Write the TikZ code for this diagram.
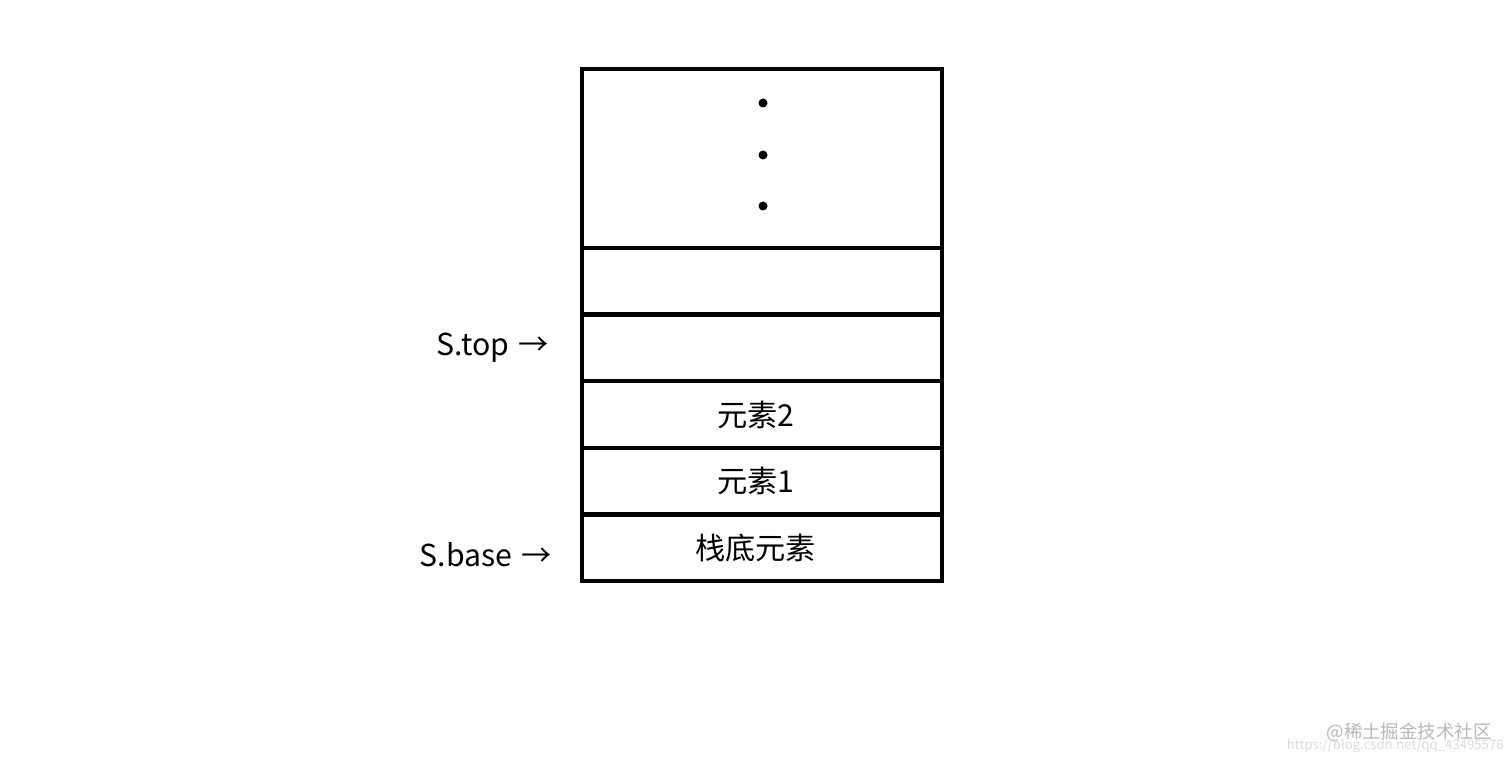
\documentclass[tikz,border=0pt]{standalone}
\usepackage{fontspec}
\setmainfont{Noto Sans CJK SC}
\usetikzlibrary{positioning}

\begin{document}
\begin{tikzpicture}[node distance=0cm, x=0.02cm, y=-0.02cm,
  cell/.style={draw, rectangle, line width=2.45pt, outer sep=0pt, minimum width=7.2cm, minimum height=1.333cm, font=\fontsize{17.2}{20}\selectfont},
  lbl/.style={inner sep=0pt, font=\fontsize{17.2}{20}\selectfont},
  dot/.style={circle, fill, inner sep=0pt, minimum size=0.18cm}]
\useasboundingbox (0,0) rectangle (1512,763);
% Stack cells
\node[cell, minimum height=3.58cm] (more) at (762,158.5) {};
\node[cell, below=of more] (free) {};
\node[cell, below=of free] (topcell) {};
\node[cell, below=of topcell] (elem2) {元素2\hspace*{0.25cm}};
\node[cell, below=of elem2] (elem1) {元素1\hspace*{0.25cm}};
\node[cell, below=of elem1] (bottom) {栈底元素\hspace*{0.25cm}};

% Dots
\node[dot] (dot1) at (763,103) {};
\node[dot] (dot2) at (763,155) {};
\node[dot] (dot3) at (763,206) {};

% Pointers
\node[lbl, left=0.66cm of topcell] (stop) {S.top\hspace{0.08em} →};
\node[lbl, left=0.6cm of bottom, yshift=-0.14cm] (sbase) {S.base\hspace{0.08em} →};

% Watermark
\node[anchor=east, inner sep=0pt, text=black!28, font=\fontsize{10.5}{12}\selectfont] (mark) at (1492,732) {@稀土掘金技术社区};
\node[anchor=east, inner sep=0pt, text=black!14, font=\fontsize{7.5}{9}\selectfont] (url) at (1504,746) {https://blog.csdn.net/qq\_43495576};
\end{tikzpicture}
\end{document}
